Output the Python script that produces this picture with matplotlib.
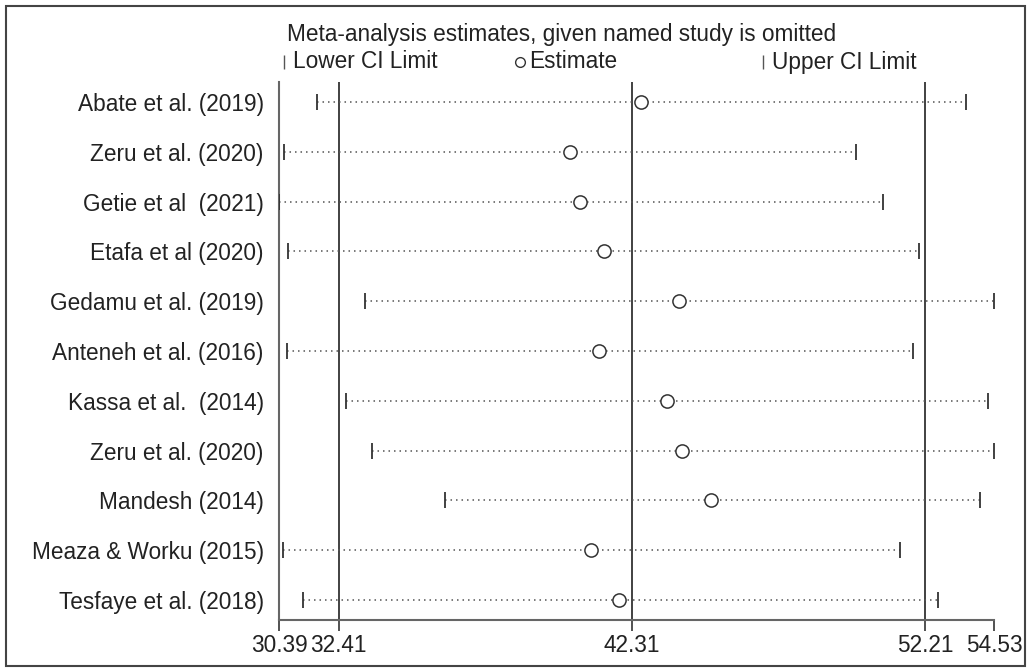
import matplotlib
matplotlib.use("Agg")
from matplotlib import pyplot as plt
from matplotlib.patches import Rectangle
import numpy as np

plt.rcParams['font.family'] = ['Liberation Sans', 'DejaVu Sans']

studies = ["Abate et al. (2019)", "Zeru et al. (2020)", "Getie et al  (2021)",
           "Etafa et al (2020)", "Gedamu et al. (2019)", "Anteneh et al. (2016)",
           "Kassa et al.  (2014)", "Zeru et al. (2020)", "Mandesh (2014)",
           "Meaza & Worku (2015)", "Tesfaye et al. (2018)"]
lower = [31.67, 30.57, 30.39, 30.69, 33.29, 30.65, 32.65, 33.53, 36.00, 30.54, 31.19]
estimate = [42.62, 40.20, 40.55, 41.35, 43.88, 41.19, 43.50, 44.00, 44.98, 40.93, 41.88]
upper = [53.60, 49.88, 50.78, 52.01, 54.53, 51.79, 54.33, 54.53, 54.07, 51.34, 52.63]

overall = 42.31
overall_lo = 32.41
overall_hi = 52.21
xticks = [30.39, 32.41, 42.31, 52.21, 54.53]

FS = 16.3
W, H = 1031, 672
fig = plt.figure(figsize=(W / 100, H / 100), dpi=100)
ax = fig.add_axes([279 / W, (H - 620) / H, (994 - 279) / W, (620 - 82) / H])

rows = np.arange(1, len(studies) + 1)

for v in [overall_lo, overall, overall_hi]:
    ax.axvline(v, color='#333333', lw=1.3, zorder=1)

for y, lo, est, hi in zip(rows, lower, estimate, upper):
    ax.plot([lo, hi], [y, y], color='#555555', lw=1.1, linestyle=(0, (1, 2.6)), zorder=2)
ax.plot(lower, rows, linestyle='none', marker='|', markersize=12, mew=1.3, color='#333333', zorder=3)
ax.plot(upper, rows, linestyle='none', marker='|', markersize=12, mew=1.3, color='#333333', zorder=3)
ax.plot(estimate, rows, linestyle='none', marker='o', markersize=9.5, mfc='white', mec='#333333',
        mew=1.1, zorder=4)

ax.set_xlim(xticks[0], xticks[-1])
ax.set_ylim(11.4, 0.6)
ax.set_xticks(xticks)
ax.set_xticklabels(["%.2f" % t for t in xticks], fontsize=FS, color='#222222')
ax.set_yticks(rows)
ax.set_yticklabels(studies, fontsize=FS, color='#222222')
ax.tick_params(axis='x', direction='out', length=8, width=1.2, color='#333333', pad=2)
ax.tick_params(axis='y', length=0, pad=11)
for side in ['top', 'right']:
    ax.spines[side].set_visible(False)
for side in ['left', 'bottom']:
    ax.spines[side].set_color('#666666')
    ax.spines[side].set_linewidth(1.5)

# legend drawn by hand, Stata style
fig.text(287 / W, 1 - 35 / H, "Meta-analysis estimates, given named study is omitted",
         fontsize=FS, color='#222222', va='center', ha='left')
leg_y = 1 - 62 / H
items = [(284, '|', "Lower CI Limit"), (520, 'o', "Estimate"), (763, '|', "Upper CI Limit")]
for px, mk, label in items:
    if mk == 'o':
        fig.lines.append(plt.Line2D([px / W], [leg_y], marker='o', markersize=7, mfc='white',
                                    mec='#333333', mew=1.0, transform=fig.transFigure))
    else:
        fig.lines.append(plt.Line2D([px / W], [leg_y], marker='|', markersize=10, mew=1.0,
                                    color='#555555', transform=fig.transFigure))
    fig.text((px + 9) / W, leg_y, label, fontsize=FS, color='#222222', va='center', ha='left')

fig.patches.append(Rectangle((6 / W, 6 / H), (W - 12) / W, (H - 12) / H, fill=False,
                             edgecolor='#444444', lw=1.5, transform=fig.transFigure))

fig.savefig("out.png", dpi=100)
